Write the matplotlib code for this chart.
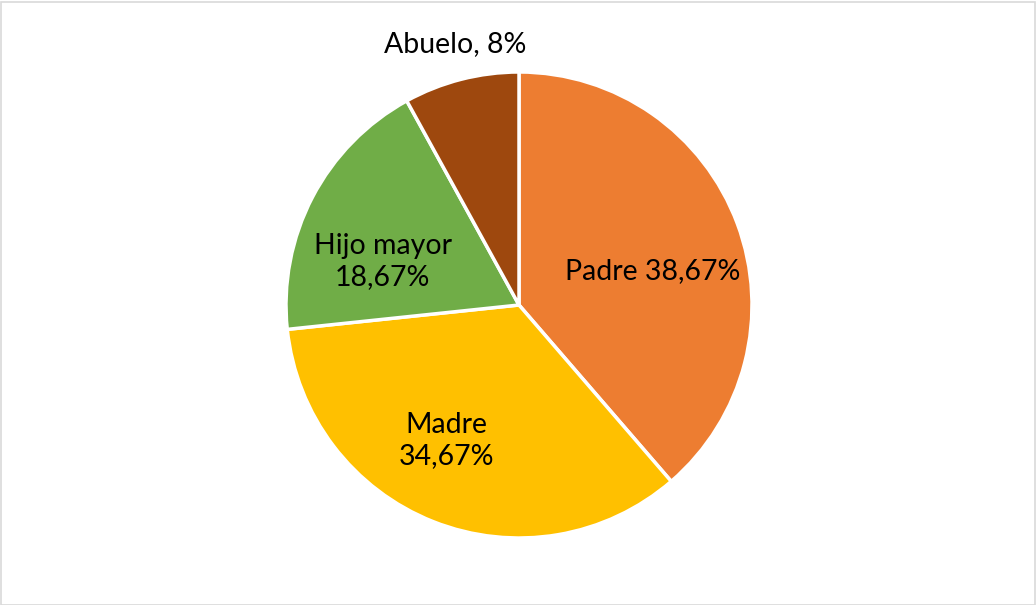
import matplotlib
matplotlib.use('Agg')
import matplotlib.pyplot as plt
from matplotlib.patches import Rectangle

# data
labels = ['Padre', 'Madre', 'Hijo mayor', 'Abuelo']
values = [38.67, 34.67, 18.67, 8.0]
label_texts = ['Padre 38,67%', 'Madre\n34,67%', 'Hijo mayor\n18,67%', 'Abuelo, 8%']
colors = ['#ED7D31', '#FFC000', '#70AD47', '#9E480E']

# label positions in pie radius units (Excel-style placement)
label_pos = [(0.575, 0.145), (-0.31, -0.58), (-0.585, 0.185), (-0.275, 1.12)]

plt.rcParams['font.family'] = ['Lato', 'DejaVu Sans']

W, H = 1036, 605
fig = plt.figure(figsize=(W / 100, H / 100), dpi=100)

# light grey chart frame
fig.patches.append(Rectangle((0.5 / W, 0.5 / H), 1 - 2 / W, 1 - 2 / H,
                             transform=fig.transFigure, fill=False,
                             edgecolor='#D9D9D9', linewidth=1.2))

cx, cy, r = 519, 305, 233
ax = fig.add_axes([(cx - r) / W, (H - cy - r) / H, 2 * r / W, 2 * r / H])
ax.pie(values, colors=colors, startangle=90, counterclock=False, radius=1,
       wedgeprops=dict(edgecolor='white', linewidth=2.5))
ax.set_xlim(-1, 1)
ax.set_ylim(-1, 1)
ax.set_aspect('equal')
ax.axis('off')

for txt, (x, y) in zip(label_texts, label_pos):
    ax.text(x, y, txt, ha='center', va='center', fontsize=20.5,
            color='black', linespacing=1.25, clip_on=False)

fig.savefig('out.png', dpi=100)
